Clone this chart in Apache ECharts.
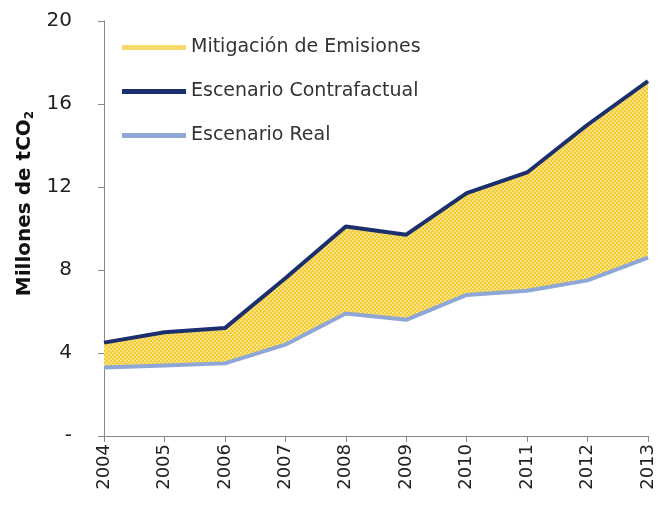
<!DOCTYPE html>
<html>
<head>
<meta charset="utf-8">
<script src="https://cdn.jsdelivr.net/npm/echarts@6/dist/echarts.min.js"></script>
<style>
  html, body { margin: 0; padding: 0; background: #fff; }
  #chart { width: 659px; height: 512px; }
</style>
</head>
<body>
<div id="chart"></div>
<script>
// datos
const years = ['2004', '2005', '2006', '2007', '2008', '2009', '2010', '2011', '2012', '2013'];
const contrafactual = [4.5, 5.0, 5.2, 7.6, 10.1, 9.7, 11.7, 12.7, 15.0, 17.1];
const real = [3.3, 3.4, 3.5, 4.4, 5.9, 5.6, 6.8, 7.0, 7.5, 8.6];
const yTicks = { 0: '-', 4: '4', 8: '8', 12: '12', 16: '16', 20: '20' };

// mitigacion = diferencia entre los dos escenarios (area apilada)
const mitigacion = contrafactual.map((v, i) => +(v - real[i]).toFixed(2));

// patron de puntos amarillo
function makePattern() {
  const c = document.createElement('canvas');
  c.width = 4;
  c.height = 4;
  const ctx = c.getContext('2d');
  ctx.fillStyle = '#F3CC38';
  ctx.fillRect(0, 0, 4, 4);
  ctx.fillStyle = '#FDF1B6';
  ctx.fillRect(0, 0, 1.5, 1.5);
  ctx.fillRect(2, 2, 1.5, 1.5);
  return c;
}
const pattern = { image: makePattern(), repeat: 'repeat' };

const chart = echarts.init(document.getElementById('chart'));
const font = '"DejaVu Sans", sans-serif';

chart.setOption({
  animation: false,
  textStyle: { fontFamily: font },
  grid: { left: 104, right: 11, top: 21, bottom: 76 },
  legend: {
    orient: 'vertical',
    left: 117,
    top: 33,
    itemWidth: 64,
    itemHeight: 5,
    itemGap: 25,
    textStyle: { fontSize: 19, color: '#333', fontFamily: font },
    data: [
      { name: 'Mitigación de Emisiones', icon: 'rect', itemStyle: { color: '#F6DA6A' } },
      { name: 'Escenario Contrafactual', icon: 'rect', itemStyle: { color: '#1B2F6E' } },
      { name: 'Escenario Real', icon: 'rect', itemStyle: { color: '#8FA7D6' } }
    ]
  },
  xAxis: {
    type: 'category',
    data: years,
    boundaryGap: false,
    axisLine: { lineStyle: { color: '#888', width: 1 } },
    axisTick: { show: true, alignWithLabel: true, length: 6, lineStyle: { color: '#888' } },
    axisLabel: { rotate: 90, fontSize: 18, color: '#222', margin: 8, fontFamily: font }
  },
  yAxis: {
    type: 'value',
    min: 0,
    max: 20,
    interval: 4,
    name: 'Millones de tCO{sub|2}',
    nameLocation: 'middle',
    nameGap: 67,
    nameTextStyle: {
      fontSize: 20,
      fontWeight: 'bold',
      color: '#111',
      fontFamily: font,
      padding: [0, 0, 0, 50],
      rich: { sub: { fontSize: 12, fontWeight: 'bold', verticalAlign: 'bottom', padding: [9, 0, 0, 0] } }
    },
    axisLine: { show: true, lineStyle: { color: '#888', width: 1 } },
    axisTick: { show: true, length: 6, lineStyle: { color: '#888' } },
    splitLine: { show: false },
    axisLabel: {
      fontSize: 20,
      color: '#222',
      margin: 32,
      fontFamily: font,
      formatter: v => yTicks[v]
    }
  },
  series: [
    {
      name: 'Escenario Real',
      type: 'line',
      stack: 'total',
      data: real,
      showSymbol: false,
      symbol: 'none',
      z: 4,
      lineStyle: { color: '#8FA7D6', width: 4 },
      itemStyle: { color: '#8FA7D6' }
    },
    {
      name: 'Mitigación de Emisiones',
      type: 'line',
      stack: 'total',
      data: mitigacion,
      showSymbol: false,
      symbol: 'none',
      z: 1,
      lineStyle: { width: 0 },
      itemStyle: { color: '#F3CC38' },
      areaStyle: { color: pattern, opacity: 1 }
    },
    {
      name: 'Escenario Contrafactual',
      type: 'line',
      data: contrafactual,
      showSymbol: false,
      symbol: 'none',
      z: 5,
      lineStyle: { color: '#1B2F6E', width: 4 },
      itemStyle: { color: '#1B2F6E' }
    }
  ]
});
</script>
</body>
</html>
